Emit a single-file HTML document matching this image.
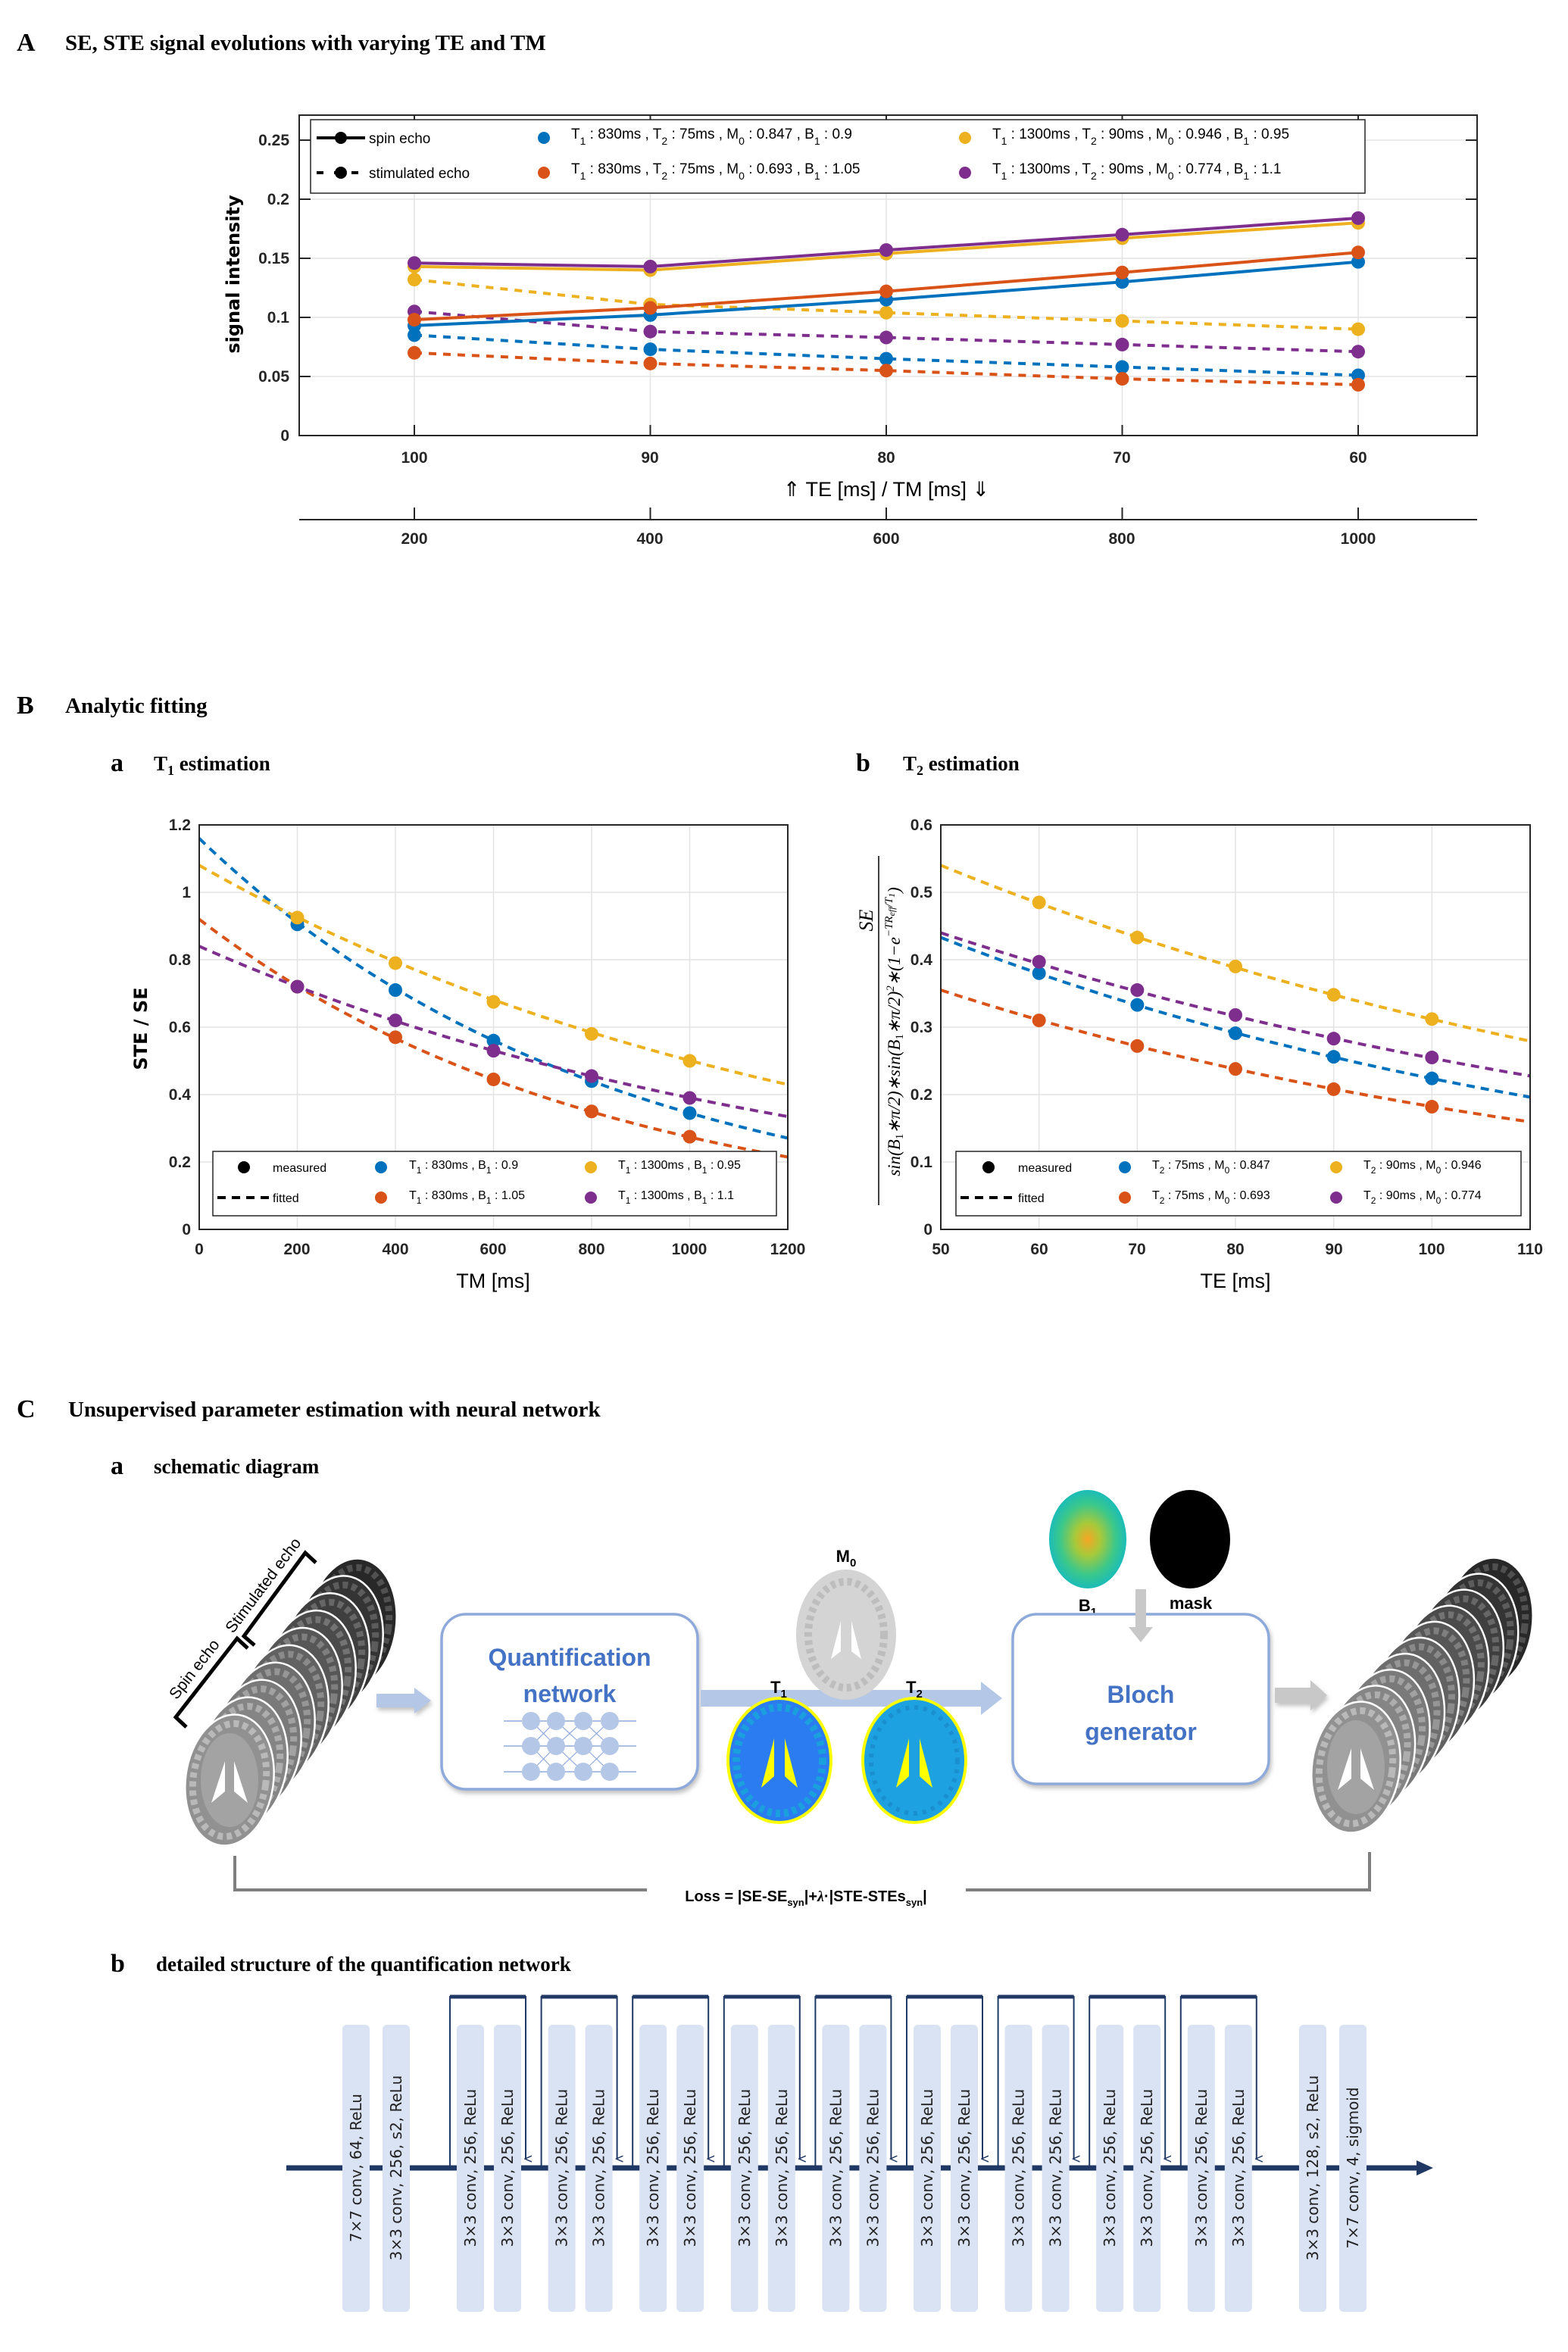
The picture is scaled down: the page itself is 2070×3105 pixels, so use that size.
<!DOCTYPE html>
<html><head><meta charset="utf-8">
<style>
html,body{margin:0;padding:0;background:#fff;}
svg{display:block;}
.tt{font-family:"Liberation Serif",serif;font-weight:bold;fill:#000;}
.tk{font-family:"Liberation Sans",sans-serif;font-weight:bold;font-size:21px;fill:#262626;}
.lg{font-family:"Liberation Sans",sans-serif;font-size:19px;fill:#000;}
.lgb{font-family:"Liberation Sans",sans-serif;font-size:16px;fill:#000;}
.ax{font-family:"Liberation Sans",sans-serif;font-size:27px;fill:#000;}
.bl{font-family:"Liberation Sans",sans-serif;font-weight:bold;font-size:32px;fill:#4472C4;}
.cv{font-family:"DejaVu Sans",sans-serif;font-size:20px;fill:#222;}
</style></head>
<body>
<svg id="S" width="2070" height="3105" viewBox="0 0 2070 3105" xmlns="http://www.w3.org/2000/svg">
<defs>
<radialGradient id="b1g" cx="50%" cy="50%" r="55%">
<stop offset="0" stop-color="#f5a623"/><stop offset="0.3" stop-color="#a8c93a"/><stop offset="0.65" stop-color="#3cc88a"/><stop offset="1" stop-color="#10b8c8"/>
</radialGradient>
<filter id="sh" x="-10%" y="-10%" width="120%" height="130%"><feDropShadow dx="2" dy="4" stdDeviation="3" flood-color="#999" flood-opacity="0.6"/></filter>
<marker id="ah" markerWidth="10" markerHeight="10" refX="5" refY="8" orient="auto" markerUnits="userSpaceOnUse"><path d="M1,0 L5,9 L9,0" fill="none" stroke="#1f3864" stroke-width="1.5"/></marker>
</defs>

<!-- Titles -->
<text x="22" y="67" class="tt" font-size="34">A</text>
<text x="86" y="66" class="tt" font-size="29">SE, STE signal evolutions with varying TE and TM</text>
<text x="22" y="942" class="tt" font-size="34">B</text>
<text x="86" y="941" class="tt" font-size="29">Analytic fitting</text>
<text x="146" y="1018" class="tt" font-size="34">a</text>
<text x="203" y="1017" class="tt" font-size="27">T<tspan font-size="18" dy="6">1</tspan><tspan dy="-6"> estimation</tspan></text>
<text x="1130" y="1018" class="tt" font-size="34">b</text>
<text x="1192" y="1017" class="tt" font-size="27">T<tspan font-size="18" dy="6">2</tspan><tspan dy="-6"> estimation</tspan></text>
<text x="22" y="1871" class="tt" font-size="34">C</text>
<text x="90" y="1870" class="tt" font-size="29">Unsupervised parameter estimation with neural network</text>
<text x="146" y="1946" class="tt" font-size="34">a</text>
<text x="203" y="1945" class="tt" font-size="27">schematic diagram</text>
<text x="146" y="2603" class="tt" font-size="34">b</text>
<text x="206" y="2602" class="tt" font-size="27">detailed structure of the quantification network</text>

<!-- Panel A axes -->
<g id="gA"></g>
<rect x="395" y="152" width="1555" height="423" fill="none" stroke="#262626" stroke-width="2"/>
<g class="tk" text-anchor="end">
<text x="382" y="582">0</text><text x="382" y="504">0.05</text><text x="382" y="426">0.1</text><text x="382" y="348">0.15</text><text x="382" y="270">0.2</text><text x="382" y="192">0.25</text>
</g>
<g class="tk" text-anchor="middle">
<text x="547" y="611">100</text><text x="858" y="611">90</text><text x="1170" y="611">80</text><text x="1481" y="611">70</text><text x="1793" y="611">60</text>
<text x="547" y="718">200</text><text x="858" y="718">400</text><text x="1170" y="718">600</text><text x="1481" y="718">800</text><text x="1793" y="718">1000</text>
</g>
<line x1="395" y1="686" x2="1950" y2="686" stroke="#262626" stroke-width="2"/>
<text x="1170" y="655" class="ax" text-anchor="middle">⇑ TE  [ms]  /  TM  [ms] ⇓</text>
<text transform="translate(316,362) rotate(-90)" text-anchor="middle" font-family="DejaVu Sans,sans-serif" font-weight="bold" font-size="24">signal intensity</text>
<!-- Legend A -->
<rect x="410" y="158" width="1392" height="97" fill="#fff" stroke="#262626" stroke-width="1.5"/>
<line x1="418" y1="182" x2="482" y2="182" stroke="#000" stroke-width="4"/><circle cx="450" cy="182" r="8"/>
<line x1="418" y1="228" x2="482" y2="228" stroke="#000" stroke-width="4" stroke-dasharray="9,14"/><circle cx="450" cy="228" r="8"/>
<text x="487" y="189" class="lg">spin echo</text>
<text x="487" y="235" class="lg">stimulated echo</text>
<circle cx="718" cy="182" r="8" fill="#0072BD"/><circle cx="718" cy="228" r="8" fill="#D95319"/>
<circle cx="1274" cy="182" r="8" fill="#EDB120"/><circle cx="1274" cy="228" r="8" fill="#7E2F8E"/>
<text x="754" y="183" class="lg">T<tspan font-size="14" dy="8">1</tspan><tspan dy="-8"> : 830ms , T</tspan><tspan font-size="14" dy="8">2</tspan><tspan dy="-8"> : 75ms , M</tspan><tspan font-size="14" dy="8">0</tspan><tspan dy="-8"> : 0.847 , B</tspan><tspan font-size="14" dy="8">1</tspan><tspan dy="-8"> : 0.9</tspan></text>
<text x="754" y="229" class="lg">T<tspan font-size="14" dy="8">1</tspan><tspan dy="-8"> : 830ms , T</tspan><tspan font-size="14" dy="8">2</tspan><tspan dy="-8"> : 75ms , M</tspan><tspan font-size="14" dy="8">0</tspan><tspan dy="-8"> : 0.693 , B</tspan><tspan font-size="14" dy="8">1</tspan><tspan dy="-8"> : 1.05</tspan></text>
<text x="1310" y="183" class="lg">T<tspan font-size="14" dy="8">1</tspan><tspan dy="-8"> : 1300ms , T</tspan><tspan font-size="14" dy="8">2</tspan><tspan dy="-8"> : 90ms , M</tspan><tspan font-size="14" dy="8">0</tspan><tspan dy="-8"> : 0.946 , B</tspan><tspan font-size="14" dy="8">1</tspan><tspan dy="-8"> : 0.95</tspan></text>
<text x="1310" y="229" class="lg">T<tspan font-size="14" dy="8">1</tspan><tspan dy="-8"> : 1300ms , T</tspan><tspan font-size="14" dy="8">2</tspan><tspan dy="-8"> : 90ms , M</tspan><tspan font-size="14" dy="8">0</tspan><tspan dy="-8"> : 0.774 , B</tspan><tspan font-size="14" dy="8">1</tspan><tspan dy="-8"> : 1.1</tspan></text>

<!-- Panel B -->
<g id="gB"></g>
<rect x="263" y="1089" width="777" height="534" fill="none" stroke="#262626" stroke-width="2"/>
<rect x="1242" y="1089" width="778" height="534" fill="none" stroke="#262626" stroke-width="2"/>
<g class="tk" text-anchor="end">
<text x="252" y="1630">0</text><text x="252" y="1541">0.2</text><text x="252" y="1452">0.4</text><text x="252" y="1363">0.6</text><text x="252" y="1274">0.8</text><text x="252" y="1185">1</text><text x="252" y="1096">1.2</text>
<text x="1231" y="1630">0</text><text x="1231" y="1541">0.1</text><text x="1231" y="1452">0.2</text><text x="1231" y="1363">0.3</text><text x="1231" y="1274">0.4</text><text x="1231" y="1185">0.5</text><text x="1231" y="1096">0.6</text>
</g>
<g class="tk" text-anchor="middle">
<text x="263" y="1656">0</text><text x="392" y="1656">200</text><text x="522" y="1656">400</text><text x="651" y="1656">600</text><text x="781" y="1656">800</text><text x="910" y="1656">1000</text><text x="1040" y="1656">1200</text>
<text x="1242" y="1656">50</text><text x="1372" y="1656">60</text><text x="1501" y="1656">70</text><text x="1631" y="1656">80</text><text x="1761" y="1656">90</text><text x="1890" y="1656">100</text><text x="2020" y="1656">110</text>
</g>
<text x="651" y="1700" class="ax" text-anchor="middle">TM  [ms]</text>
<text x="1631" y="1700" class="ax" text-anchor="middle">TE  [ms]</text>
<text transform="translate(194,1358) rotate(-90)" text-anchor="middle" font-family="DejaVu Sans,sans-serif" font-weight="bold" font-size="24">STE / SE</text>
<g font-family="Liberation Serif,serif" font-style="italic" font-size="23">
<text transform="translate(1152,1215) rotate(-90)" text-anchor="middle" font-size="26">SE</text>
<line x1="1160" y1="1130" x2="1160" y2="1591" stroke="#000" stroke-width="1.5"/>
<text transform="translate(1188,1362) rotate(-90)" text-anchor="middle">sin(B<tspan font-size="15" font-style="normal" dy="4">1</tspan><tspan dy="-4">∗π/2)∗sin(B</tspan><tspan font-size="15" font-style="normal" dy="4">1</tspan><tspan dy="-4">∗π/2)</tspan><tspan font-size="15" dy="-8">2</tspan><tspan dy="8">∗(1−e</tspan><tspan font-size="15" dy="-10">−TR</tspan><tspan font-size="12" dy="3">eff</tspan><tspan font-size="15" dy="-3">/T</tspan><tspan font-size="12" dy="3">1</tspan><tspan dy="7">)</tspan></text>
</g>
<!-- legends B -->
<rect x="281" y="1520" width="744" height="85" fill="#fff" stroke="#262626" stroke-width="1.5"/>
<rect x="1262" y="1520" width="746" height="85" fill="#fff" stroke="#262626" stroke-width="1.5"/>
<g>
<circle cx="322" cy="1541" r="8"/><line x1="287" y1="1581" x2="356" y2="1581" stroke="#000" stroke-width="4" stroke-dasharray="11,8"/>
<text x="360" y="1547" class="lgb">measured</text><text x="360" y="1587" class="lgb">fitted</text>
<circle cx="503" cy="1541" r="8" fill="#0072BD"/><circle cx="503" cy="1581" r="8" fill="#D95319"/>
<circle cx="780" cy="1541" r="8" fill="#EDB120"/><circle cx="780" cy="1581" r="8" fill="#7E2F8E"/>
<text x="540" y="1543" class="lgb">T<tspan font-size="12" dy="6">1</tspan><tspan dy="-6"> : 830ms ,  B</tspan><tspan font-size="12" dy="6">1</tspan><tspan dy="-6"> : 0.9</tspan></text>
<text x="540" y="1583" class="lgb">T<tspan font-size="12" dy="6">1</tspan><tspan dy="-6"> : 830ms ,  B</tspan><tspan font-size="12" dy="6">1</tspan><tspan dy="-6"> : 1.05</tspan></text>
<text x="816" y="1543" class="lgb">T<tspan font-size="12" dy="6">1</tspan><tspan dy="-6"> : 1300ms ,  B</tspan><tspan font-size="12" dy="6">1</tspan><tspan dy="-6"> : 0.95</tspan></text>
<text x="816" y="1583" class="lgb">T<tspan font-size="12" dy="6">1</tspan><tspan dy="-6"> : 1300ms ,  B</tspan><tspan font-size="12" dy="6">1</tspan><tspan dy="-6"> : 1.1</tspan></text>

<circle cx="1305" cy="1541" r="8"/><line x1="1268" y1="1581" x2="1338" y2="1581" stroke="#000" stroke-width="4" stroke-dasharray="11,8"/>
<text x="1344" y="1547" class="lgb">measured</text><text x="1344" y="1587" class="lgb">fitted</text>
<circle cx="1485" cy="1541" r="8" fill="#0072BD"/><circle cx="1485" cy="1581" r="8" fill="#D95319"/>
<circle cx="1764" cy="1541" r="8" fill="#EDB120"/><circle cx="1764" cy="1581" r="8" fill="#7E2F8E"/>
<text x="1521" y="1543" class="lgb">T<tspan font-size="12" dy="6">2</tspan><tspan dy="-6"> : 75ms , M</tspan><tspan font-size="12" dy="6">0</tspan><tspan dy="-6"> : 0.847</tspan></text>
<text x="1521" y="1583" class="lgb">T<tspan font-size="12" dy="6">2</tspan><tspan dy="-6"> : 75ms , M</tspan><tspan font-size="12" dy="6">0</tspan><tspan dy="-6"> : 0.693</tspan></text>
<text x="1800" y="1543" class="lgb">T<tspan font-size="12" dy="6">2</tspan><tspan dy="-6"> : 90ms , M</tspan><tspan font-size="12" dy="6">0</tspan><tspan dy="-6"> : 0.946</tspan></text>
<text x="1800" y="1583" class="lgb">T<tspan font-size="12" dy="6">2</tspan><tspan dy="-6"> : 90ms , M</tspan><tspan font-size="12" dy="6">0</tspan><tspan dy="-6"> : 0.774</tspan></text>
</g>

<!-- Panel C a -->
<g id="stL"></g><g id="stR"></g>
<g stroke="#000" stroke-width="5" fill="none">
<path d="M246,2280 L232,2267 L313,2163 L327,2176"/>
<path d="M336,2172 L322,2160 L403,2050 L417,2063"/>
</g>
<g font-family="Liberation Sans,sans-serif" font-size="21" fill="#000">
<text transform="translate(262,2208) rotate(-52)" text-anchor="middle">Spin echo</text>
<text transform="translate(353,2097) rotate(-53)" text-anchor="middle">Stimulated echo</text>
</g>
<path d="M497,2236 L547,2236 L547,2228 L569,2245 L547,2262 L547,2254 L497,2254Z" fill="#b4c7e7" filter="url(#sh)"/>
<rect x="583" y="2131" width="338" height="231" rx="32" fill="#fff" stroke="#8eaadb" stroke-width="3.5" filter="url(#sh)"/>
<text x="752" y="2199" class="bl" text-anchor="middle">Quantification</text>
<text x="752" y="2247" class="bl" text-anchor="middle">network</text>
<g id="net"></g>
<path d="M925,2231 L1295,2231 L1295,2220 L1323,2242 L1295,2264 L1295,2253 L925,2253Z" fill="#b4c7e7"/>
<!-- M0 brain -->
<ellipse cx="1117" cy="2158" rx="66" ry="86" fill="#d4d4d4"/>
<ellipse cx="1117" cy="2158" rx="50" ry="70" fill="none" stroke="#bdbdbd" stroke-width="10" stroke-dasharray="6,5"/>
<path d="M1110,2140 L1097,2190 L1110,2180 Z M1124,2140 L1137,2190 L1124,2180Z" fill="#fff"/>
<text x="1117" y="2062" font-family="Liberation Sans,sans-serif" font-weight="bold" font-size="22" text-anchor="middle">M<tspan font-size="15" dy="6">0</tspan></text>
<!-- T1/T2 maps -->
<ellipse cx="1029" cy="2324" rx="68" ry="82" fill="#2b7cf0" stroke="#ffff00" stroke-width="4"/>
<ellipse cx="1029" cy="2324" rx="57" ry="70" fill="none" stroke="#1aa0dc" stroke-width="10" stroke-dasharray="6,5"/>
<path d="M1022,2295 L1005,2360 L1022,2345Z M1036,2295 L1053,2360 L1036,2345Z" fill="#ffff00"/>
<ellipse cx="1207" cy="2324" rx="68" ry="82" fill="#1ea1e0" stroke="#ffff00" stroke-width="4"/>
<ellipse cx="1207" cy="2324" rx="57" ry="70" fill="none" stroke="#1a8fd0" stroke-width="6" stroke-dasharray="5,7"/>
<path d="M1200,2295 L1183,2360 L1200,2345Z M1214,2295 L1231,2360 L1214,2345Z" fill="#ffff00"/>
<text x="1028" y="2235" font-family="Liberation Sans,sans-serif" font-weight="bold" font-size="22" text-anchor="middle">T<tspan font-size="15" dy="6">1</tspan></text>
<text x="1207" y="2235" font-family="Liberation Sans,sans-serif" font-weight="bold" font-size="22" text-anchor="middle">T<tspan font-size="15" dy="6">2</tspan></text>
<ellipse cx="1436" cy="2032" rx="51" ry="65" fill="url(#b1g)"/>
<ellipse cx="1571" cy="2032" rx="53" ry="65" fill="#000"/>
<text x="1436" y="2127" font-family="Liberation Sans,sans-serif" font-weight="bold" font-size="22" text-anchor="middle">B<tspan font-size="15" dy="6">1</tspan></text>
<text x="1572" y="2124" font-family="Liberation Sans,sans-serif" font-weight="bold" font-size="22" text-anchor="middle">mask</text>
<rect x="1337" y="2131" width="338" height="224" rx="32" fill="#fff" stroke="#8eaadb" stroke-width="3.5" filter="url(#sh)"/>
<path d="M1499,2098 L1513,2098 L1513,2148 L1522,2148 L1506,2168 L1490,2148 L1499,2148Z" fill="#c8c8c8"/>
<text x="1506" y="2248" class="bl" text-anchor="middle">Bloch</text>
<text x="1506" y="2297" class="bl" text-anchor="middle">generator</text>
<path d="M1683,2228 L1730,2228 L1730,2218 L1752,2238 L1730,2258 L1730,2248 L1683,2248Z" fill="#c8c8c8" filter="url(#sh)"/>
<path d="M310,2450 L310,2495 L854,2495 M1275,2495 L1808,2495 L1808,2445" fill="none" stroke="#7f7f7f" stroke-width="4"/>
<text x="1064" y="2510" font-family="Liberation Sans,sans-serif" font-weight="bold" font-size="20" text-anchor="middle">Loss = |SE-SE<tspan font-size="13" dy="6">syn</tspan><tspan dy="-6">|+</tspan><tspan font-family="Liberation Serif,serif" font-style="italic">λ</tspan><tspan>·|STE-STEs</tspan><tspan font-size="13" dy="6">syn</tspan><tspan dy="-6">|</tspan></text>

<!-- Panel C b -->
<line x1="378" y1="2862" x2="1875" y2="2862" stroke="#1f3864" stroke-width="7"/>
<path d="M1870,2852 L1892,2862 L1870,2872Z" fill="#1f3864"/>
<g id="skip"></g>
<g id="boxes"></g>
</svg>
<script>
var NS="http://www.w3.org/2000/svg";
function el(p,t,a){var e=document.createElementNS(NS,t);for(var k in a)e.setAttribute(k,a[k]);p.appendChild(e);return e;}
var C=["#0072BD","#D95319","#EDB120","#7E2F8E"];
var gA=document.getElementById("gA");
function XA(i){return 547+311.5*i;} function YA(v){return 575-1560*v;}
for(var i=0;i<5;i++){el(gA,"line",{x1:XA(i),y1:152,x2:XA(i),y2:575,stroke:"#e3e3e3","stroke-width":1.5});
 el(gA,"line",{x1:XA(i),y1:670,x2:XA(i),y2:686,stroke:"#262626","stroke-width":2});
 el(gA,"line",{x1:XA(i),y1:575,x2:XA(i),y2:561,stroke:"#262626","stroke-width":2});
 el(gA,"line",{x1:XA(i),y1:152,x2:XA(i),y2:166,stroke:"#262626","stroke-width":2});}
[0.05,0.1,0.15,0.2,0.25].forEach(function(v){el(gA,"line",{x1:395,y1:YA(v),x2:1950,y2:YA(v),stroke:"#e3e3e3","stroke-width":1.5});
 el(gA,"line",{x1:395,y1:YA(v),x2:410,y2:YA(v),stroke:"#262626","stroke-width":2});el(gA,"line",{x1:1935,y1:YA(v),x2:1950,y2:YA(v),stroke:"#262626","stroke-width":2});});
var SE=[[0.093,0.102,0.115,0.130,0.147],[0.098,0.108,0.122,0.138,0.155],[0.143,0.140,0.154,0.167,0.180],[0.146,0.143,0.157,0.170,0.184]];
var STE=[[0.085,0.073,0.065,0.058,0.051],[0.070,0.061,0.055,0.048,0.043],[0.132,0.111,0.104,0.097,0.090],[0.105,0.088,0.083,0.077,0.071]];
function drawA(d,c,dash){var p="";d.forEach(function(v,i){p+=(i?"L":"M")+XA(i)+","+YA(v);});
 var a={d:p,fill:"none",stroke:c,"stroke-width":4};if(dash)a["stroke-dasharray"]="10,9";el(gA,"path",a);
 d.forEach(function(v,i){el(gA,"circle",{cx:XA(i),cy:YA(v),r:9,fill:c});});}
for(var k=0;k<4;k++)drawA(STE[k],C[k],true);
for(var k=0;k<4;k++)drawA(SE[k],C[k],false);
var gB=document.getElementById("gB");
function Xa(t){return 263+t*777/1200;} function Ya(v){return 1623-445*v;}
function Xb(t){return 1242+(t-50)*778/60;} function Yb(v){return 1623-890*v;}
for(var t=0;t<=1200;t+=200){el(gB,"line",{x1:Xa(t),y1:1089,x2:Xa(t),y2:1623,stroke:"#e3e3e3","stroke-width":1.5});}
for(var v=0.2;v<1.2;v+=0.2){el(gB,"line",{x1:263,y1:Ya(v),x2:1040,y2:Ya(v),stroke:"#e3e3e3","stroke-width":1.5});}
for(var t=60;t<=100;t+=10){el(gB,"line",{x1:Xb(t),y1:1089,x2:Xb(t),y2:1623,stroke:"#e3e3e3","stroke-width":1.5});}
for(var v=0.1;v<0.6;v+=0.1){el(gB,"line",{x1:1242,y1:Yb(v),x2:2020,y2:Yb(v),stroke:"#e3e3e3","stroke-width":1.5});}
var FA=[[1.16,825],[0.92,825],[1.08,1302],[0.84,1305]];
var PA=[[0.905,0.71,0.56,0.44,0.345],[0.72,0.57,0.445,0.35,0.275],[0.925,0.79,0.675,0.58,0.50],[0.72,0.62,0.53,0.455,0.39]];
var FB=[[0.433,75.8],[0.355,75],[0.54,91],[0.44,91]];
var PB=[[0.38,0.333,0.291,0.256,0.224],[0.31,0.272,0.238,0.208,0.182],[0.485,0.433,0.39,0.348,0.312],[0.397,0.355,0.318,0.283,0.255]];
for(var k=0;k<4;k++){var p="";for(var t=0;t<=1200;t+=20){p+=(t?"L":"M")+Xa(t).toFixed(1)+","+Ya(FA[k][0]*Math.exp(-t/FA[k][1])).toFixed(1);}
 el(gB,"path",{d:p,fill:"none",stroke:C[k],"stroke-width":4,"stroke-dasharray":"11,8"});
 p="";for(var t=50;t<=110;t+=1){p+=(t>50?"L":"M")+Xb(t).toFixed(1)+","+Yb(FB[k][0]*Math.exp(-(t-50)/FB[k][1])).toFixed(1);}
 el(gB,"path",{d:p,fill:"none",stroke:C[k],"stroke-width":4,"stroke-dasharray":"11,8"});}
for(var k=0;k<4;k++){for(var i=0;i<5;i++){el(gB,"circle",{cx:Xa(200+200*i),cy:Ya(PA[k][i]),r:9,fill:C[k]});
 el(gB,"circle",{cx:Xb(60+10*i),cy:Yb(PB[k][i]),r:9,fill:C[k]});}}
function stack(g,fx,fy,bx,by){var n=10;for(var i=n-1;i>=0;i--){var f=i/(n-1);var cx=fx+(bx-fx)*f,cy=fy+(by-fy)*f;
 var gv=Math.round(170-105*f);var col="rgb("+(gv+15)+","+(gv+15)+","+(gv+15)+")";var dk="rgb("+(gv-25)+","+(gv-25)+","+(gv-25)+")";
 el(g,"ellipse",{cx:cx,cy:cy,rx:58,ry:87,fill:dk,stroke:"#fff","stroke-width":2.5,transform:"rotate(8 "+cx+" "+cy+")"});
 el(g,"ellipse",{cx:cx,cy:cy,rx:48,ry:75,fill:"none",stroke:col,"stroke-width":9,"stroke-dasharray":"7,5",transform:"rotate(8 "+cx+" "+cy+")"});
 if(i==0){el(g,"ellipse",{cx:cx,cy:cy,rx:38,ry:62,fill:"#a3a3a3"});el(g,"path",{d:"M"+(cx-6)+","+(cy-25)+" L"+(cx-24)+","+(cy+30)+" L"+(cx-6)+","+(cy+15)+"Z M"+(cx+6)+","+(cy-25)+" L"+(cx+24)+","+(cy+30)+" L"+(cx+6)+","+(cy+15)+"Z",fill:"#fff"});}}}
stack(document.getElementById("stL"),303,2350,465,2144);
stack(document.getElementById("stR"),1790,2333,1965,2143);
var net=document.getElementById("net");var xs=[701,734,770,805],ys=[2272,2305,2339];
ys.forEach(function(y){el(net,"line",{x1:665,y1:y,x2:840,y2:y,stroke:"#8eaadb","stroke-width":1.5});});
for(var a=0;a<3;a++)for(var i=0;i<3;i++)for(var j=0;j<3;j++){if(Math.abs(i-j)==1)el(net,"line",{x1:xs[a],y1:ys[i],x2:xs[a+1],y2:ys[j],stroke:"#8eaadb","stroke-width":1.2});}
xs.forEach(function(x){ys.forEach(function(y){el(net,"circle",{cx:x,cy:y,r:12,fill:"#b4c7e7"});});});
var sk=document.getElementById("skip");
for(var k=0;k<9;k++){var L=594+120.6*k,R=694+120.6*k;
 el(sk,"path",{d:"M"+L+",2862 L"+L+",2636 L"+R+",2636 L"+R+",2850",fill:"none",stroke:"#1f3864","stroke-width":2,"marker-end":"url(#ah)"});
 el(sk,"line",{x1:L,y1:2636,x2:R,y2:2636,stroke:"#1f3864","stroke-width":5});}
var bx=document.getElementById("boxes");
var cxs=[470,523],lab=["7×7 conv, 64, ReLu","3×3 conv, 256, s2, ReLu"];
for(var k=0;k<9;k++){cxs.push(621+120.6*k,670+120.6*k);lab.push("3×3 conv, 256, ReLu","3×3 conv, 256, ReLu");}
cxs.push(1733,1786);lab.push("3×3 conv, 128, s2, ReLu","7×7 conv, 4, sigmoid");
cxs.forEach(function(x,i){el(bx,"rect",{x:x-18,y:2673,width:36,height:379,rx:6,fill:"#dae3f3"});
 var t=el(bx,"text",{transform:"translate("+(x+7)+",2862) rotate(-90)","text-anchor":"middle","class":"cv"});t.textContent=lab[i];});
</script>
</body></html>
